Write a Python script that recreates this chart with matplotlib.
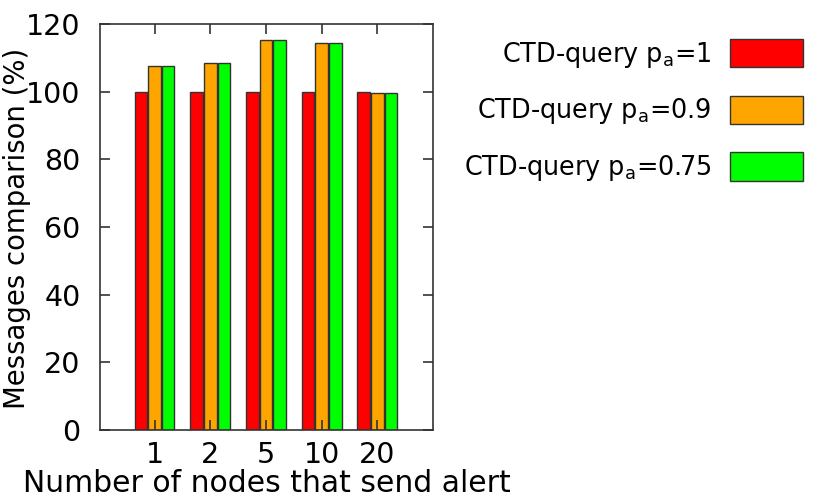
import matplotlib
matplotlib.use("Agg")
import matplotlib.pyplot as plt
import numpy as np

categories = ["1", "2", "5", "10", "20"]
series_labels = [r"CTD-query p$_\mathrm{a}$=1", r"CTD-query p$_\mathrm{a}$=0.9", r"CTD-query p$_\mathrm{a}$=0.75"]
vals_p1 = [100, 100, 100, 100, 100]
vals_p09 = [107.6, 108.6, 115.3, 114.3, 99.6]
vals_p075 = [107.6, 108.6, 115.3, 114.3, 99.6]
colors = ["#ff0000", "#ffa500", "#00ff00"]

plt.rcParams["font.family"] = ["DejaVu Sans"]
plt.rcParams["mathtext.fontset"] = "dejavusans"

fig = plt.figure(figsize=(8.3, 4.98), dpi=100)
ax = fig.add_axes([100/830, 1-430/498, 333/830, 406/498])

x = np.arange(1, len(categories)+1)
w = 0.225
offs = [-0.245, 0, 0.245]
handles = []
for vals, c, off, lab in zip([vals_p1, vals_p09, vals_p075], colors, offs, series_labels):
    b = ax.bar(x+off, vals, width=w, color=c, edgecolor="#333333", linewidth=1.0, label=lab)
    handles.append(b)

ax.set_xlim(0.02, 6.0)
ax.set_ylim(0, 120)
ax.set_xticks(x)
ax.set_xticklabels(categories)
ax.set_yticks(np.arange(0, 121, 20))
ax.tick_params(direction="in", length=7, width=1.2, top=True, right=True, labelsize=20.5, color="#333333")
ax.tick_params(axis="y", pad=14)
ax.tick_params(axis="x", pad=8)
for s in ax.spines.values():
    s.set_color("#333333")
    s.set_linewidth(1.2)
ax.set_xlabel("Number of nodes that send alert", fontsize=21.5)
ax.xaxis.set_label_coords(0.5, -0.095)
ax.set_ylabel("Messages comparison (%)", fontsize=19.8)
ax.yaxis.set_label_coords(-0.208, 0.497)

leg = fig.legend(handles=handles, labels=series_labels, loc="upper right",
                 bbox_to_anchor=(803/830, 1-39/498), frameon=False, fontsize=18.4,
                 markerfirst=False, handlelength=2.87, handleheight=1.32,
                 labelspacing=1.02, handletextpad=0.7, borderaxespad=0, borderpad=0)
plt.savefig("out.png", dpi=100)
